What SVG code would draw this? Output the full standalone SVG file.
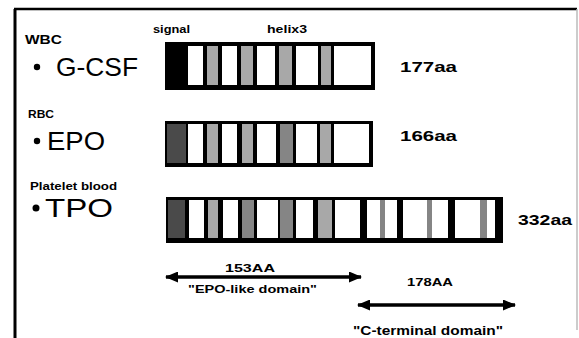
<svg xmlns="http://www.w3.org/2000/svg" width="579" height="338" viewBox="0 0 579 338">
<style>
.lbl{font-family:"Liberation Sans",Arial,sans-serif;font-weight:bold;fill:#000}
.big{font-family:"Liberation Sans",Arial,sans-serif;font-weight:normal;fill:#000}
.w{fill:#fff}
.s{fill:#a8a8a8}
.sd{fill:#858585}
.dk{fill:#4a4a4a}
.ln{stroke:#000;stroke-width:3.5;fill:none}
</style>
<defs>
<marker id="ah" viewBox="0 0 13 11" refX="12" refY="5.5" markerWidth="13" markerHeight="11" markerUnits="userSpaceOnUse" orient="auto-start-reverse">
<path d="M0,0 L13,5.5 L0,11 Z" fill="#000"/>
</marker>
</defs>
<rect width="579" height="338" fill="#fff"/>
<g id="frame">
<line x1="15" y1="9" x2="15" y2="338" stroke="#000" stroke-width="3"/>
<line x1="14" y1="9" x2="577" y2="9" stroke="#000" stroke-width="2.5"/>
<line x1="577" y1="9" x2="577" y2="330" stroke="#bbb" stroke-width="1.5"/>
</g>
<g id="labels">
<text class="lbl" x="153" y="33" font-size="11" textLength="37" lengthAdjust="spacingAndGlyphs">signal</text>
<text class="lbl" x="267" y="33" font-size="11" textLength="40" lengthAdjust="spacingAndGlyphs">helix3</text>
</g>
<g id="gcsf">
<text class="lbl" x="25" y="44" font-size="12" textLength="37" lengthAdjust="spacingAndGlyphs">WBC</text>
<circle cx="37" cy="67" r="3.2" fill="#000"/>
<text class="big" x="56" y="76" font-size="26" textLength="82" lengthAdjust="spacingAndGlyphs">G-CSF</text>
<rect x="165" y="42" width="210" height="48" fill="#000"/>
<rect class="w" x="188" y="46" width="15" height="39"/>
<rect class="s" x="207" y="46" width="11" height="39"/>
<rect class="w" x="222" y="46" width="15" height="39"/>
<rect class="s" x="241" y="46" width="12" height="39"/>
<rect class="w" x="257" y="46" width="18" height="39"/>
<rect class="s" x="279" y="46" width="13" height="39"/>
<rect class="w" x="296" y="46" width="22" height="39"/>
<rect class="s" x="321" y="46" width="10" height="39"/>
<rect class="w" x="334" y="46" width="37" height="39"/>
<text class="lbl" x="400" y="72" font-size="15" textLength="57" lengthAdjust="spacingAndGlyphs">177aa</text>
</g>
<g id="epo">
<text class="lbl" x="28" y="118" font-size="11" textLength="26" lengthAdjust="spacingAndGlyphs">RBC</text>
<circle cx="37" cy="141" r="3.2" fill="#000"/>
<text class="big" x="47" y="150" font-size="25" textLength="58" lengthAdjust="spacingAndGlyphs">EPO</text>
<rect x="165" y="121" width="208" height="46" fill="#000"/>
<rect class="dk" x="167" y="124" width="19" height="39"/>
<rect class="w" x="188" y="124" width="15" height="39"/>
<rect class="s" x="207" y="124" width="11" height="39"/>
<rect class="w" x="222" y="124" width="15" height="39"/>
<rect class="s" x="242" y="124" width="11" height="39"/>
<rect class="w" x="257" y="124" width="19" height="39"/>
<rect class="sd" x="280" y="124" width="13" height="39"/>
<rect class="w" x="296" y="124" width="21" height="39"/>
<rect class="s" x="320" y="124" width="11" height="39"/>
<rect class="w" x="334" y="124" width="35" height="39"/>
<text class="lbl" x="400" y="141" font-size="15" textLength="57" lengthAdjust="spacingAndGlyphs">166aa</text>
</g>
<g id="tpo">
<text class="lbl" x="30" y="190" font-size="11" textLength="87" lengthAdjust="spacingAndGlyphs">Platelet blood</text>
<circle cx="36" cy="208" r="3.5" fill="#000"/>
<text class="big" x="45" y="217" font-size="26" textLength="68" lengthAdjust="spacingAndGlyphs">TPO</text>
<rect x="166" y="197" width="337" height="46" fill="#000"/>
<rect class="dk" x="168" y="200" width="17" height="38"/>
<rect class="w" x="189" y="200" width="15" height="38"/>
<rect class="s" x="208" y="200" width="10" height="38"/>
<rect class="w" x="223" y="200" width="15" height="38"/>
<rect class="sd" x="242" y="200" width="12" height="38"/>
<rect class="w" x="257" y="200" width="21" height="38"/>
<rect class="sd" x="280" y="200" width="13" height="38"/>
<rect class="w" x="296" y="200" width="17" height="38"/>
<rect class="s" x="318" y="200" width="14" height="38"/>
<rect class="w" x="335" y="200" width="25" height="38"/>
<rect class="w" x="367" y="200" width="13" height="38"/>
<rect class="sd" x="380" y="200" width="5" height="38"/>
<rect class="w" x="385" y="200" width="12" height="38"/>
<rect class="w" x="403" y="200" width="24" height="38"/>
<rect class="sd" x="427" y="200" width="5" height="38"/>
<rect class="w" x="432" y="200" width="16" height="38"/>
<rect class="w" x="455" y="200" width="25" height="38"/>
<rect class="sd" x="480" y="200" width="7" height="38"/>
<rect class="w" x="487" y="200" width="8" height="38"/>
<text class="lbl" x="518" y="225" font-size="15" textLength="54" lengthAdjust="spacingAndGlyphs">332aa</text>
</g>
<g id="connectors">
<line class="ln" x1="166" y1="277" x2="361" y2="277" marker-start="url(#ah)" marker-end="url(#ah)"/>
<line class="ln" x1="358" y1="305" x2="515" y2="305" marker-start="url(#ah)" marker-end="url(#ah)"/>
</g>
<g id="domains">
<text class="lbl" x="225" y="272" font-size="11" textLength="50" lengthAdjust="spacingAndGlyphs">153AA</text>
<text class="lbl" x="188" y="293" font-size="11" textLength="129" lengthAdjust="spacingAndGlyphs">"EPO-like domain"</text>
<text class="lbl" x="407" y="286" font-size="10" textLength="46" lengthAdjust="spacingAndGlyphs">178AA</text>
<text class="lbl" x="353" y="335" font-size="12" textLength="150" lengthAdjust="spacingAndGlyphs">"C-terminal domain"</text>
</g>
</svg>
